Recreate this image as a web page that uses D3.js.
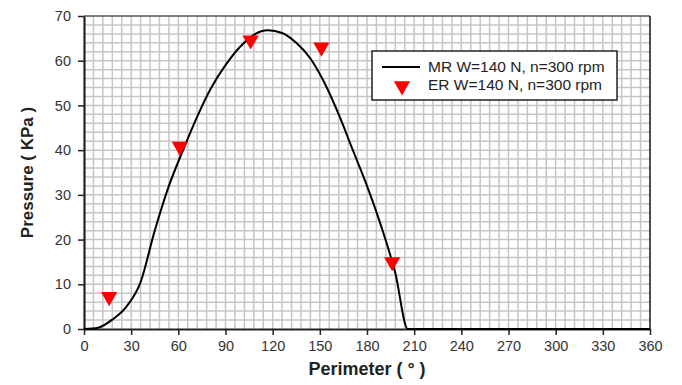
<!DOCTYPE html>
<html>
<head>
<meta charset="utf-8">
<script src="https://cdn.jsdelivr.net/npm/d3@7"></script>
<style>
  body { margin: 0; background: #fff; }
  svg { display: block; font-family: 'Liberation Sans', Arial, sans-serif; }
</style>
</head>
<body>
<div id="chart"></div>
<script>
const width = 682
const height = 385
const margin = { top: 16, right: 32, bottom: 56, left: 84 }

// MR curve
const mrAngle = [0, 9, 18, 27, 36, 45, 54, 63, 72, 81, 90, 99, 108, 117, 126, 135, 144, 153, 162, 171, 180, 189, 198, 206, 360]
const mrPressure = [0, 0.3, 2.1, 5, 10.5, 22, 32, 40, 47.5, 54, 59, 63, 65.8, 66.8, 66.2, 64, 60.5, 55, 48, 40, 32, 23, 12.5, 0, 0]

// ER measured points
const erAngle = [16, 61, 106, 151, 196]
const erPressure = [7.2, 40.8, 64.6, 63, 15]

const xTicks = d3.range(0, 361, 30)
const yTicks = d3.range(0, 71, 10)
const legendLabels = ['MR W=140 N, n=300 rpm', 'ER W=140 N, n=300 rpm']

const svg = d3
  .select('#chart')
  .append('svg')
  .attr('width', width)
  .attr('height', height)

const x = d3
  .scaleLinear()
  .domain([0, 360])
  .range([margin.left, width - margin.right])
const y = d3
  .scaleLinear()
  .domain([0, 70])
  .range([height - margin.bottom, margin.top])

// minor grid
svg
  .append('g')
  .attr('class', 'grid')
  .call(g =>
    g
      .selectAll('.vx')
      .data(d3.range(6, 360, 6))
      .join('line')
      .attr('x1', d => x(d))
      .attr('x2', d => x(d))
      .attr('y1', y(0))
      .attr('y2', y(70))
  )
  .call(g =>
    g
      .selectAll('.hy')
      .data(d3.range(2, 70, 2))
      .join('line')
      .attr('x1', x(0))
      .attr('x2', x(360))
      .attr('y1', d => y(d))
      .attr('y2', d => y(d))
  )
  .attr('stroke', '#c6c6c6')
  .attr('stroke-width', 1.5)

// frame top/right
svg
  .append('line')
  .attr('x1', x(0))
  .attr('x2', x(360))
  .attr('y1', y(70))
  .attr('y2', y(70))
  .attr('stroke', '#555')
  .attr('stroke-width', 1.6)
svg
  .append('line')
  .attr('x1', x(360))
  .attr('x2', x(360))
  .attr('y1', y(70))
  .attr('y2', y(0))
  .attr('stroke', '#222')
  .attr('stroke-width', 1.6)

const tickFont = g =>
  g
    .call(g => g.selectAll('text').attr('font-size', 14.5).attr('fill', '#333'))
    .call(g => g.selectAll('.tick line').attr('stroke', '#222').attr('stroke-width', 1.5))
    .call(g => g.select('.domain').attr('stroke', '#222').attr('stroke-width', 2.2))

svg
  .append('g')
  .attr('transform', `translate(0,${y(0)})`)
  .call(d3.axisBottom(x).tickValues(xTicks).tickSize(6).tickSizeOuter(0).tickPadding(6))
  .call(tickFont)

svg
  .append('g')
  .attr('transform', `translate(${x(0)},0)`)
  .call(d3.axisLeft(y).tickValues(yTicks).tickSize(6).tickSizeOuter(0).tickPadding(7))
  .call(tickFont)

// MR line
const line = d3
  .line()
  .x(d => x(d[0]))
  .y(d => y(d[1]))
  .curve(d3.curveMonotoneX)

svg
  .append('path')
  .datum(d3.zip(mrAngle, mrPressure))
  .attr('fill', 'none')
  .attr('stroke', '#000')
  .attr('stroke-width', 2)
  .attr('d', line)

// ER triangles
const tri = d3.symbol().type(d3.symbolTriangle).size(115)
svg
  .append('g')
  .selectAll('path')
  .data(d3.zip(erAngle, erPressure))
  .join('path')
  .attr('d', tri)
  .attr('fill', '#f00')
  .attr('transform', d => `translate(${x(d[0])},${y(d[1])}) rotate(180)`)

// axis titles
svg
  .append('text')
  .attr('x', (x(0) + x(360)) / 2)
  .attr('y', 375)
  .attr('text-anchor', 'middle')
  .attr('font-size', 18)
  .attr('font-weight', 'bold')
  .attr('fill', '#222')
  .text('Perimeter ( ° )')

svg
  .append('text')
  .attr('transform', `translate(33,${(y(0) + y(70)) / 2}) rotate(-90)`)
  .attr('text-anchor', 'middle')
  .attr('font-size', 17)
  .attr('font-weight', 'bold')
  .attr('fill', '#222')
  .text('Pressure ( KPa )')

// legend
const legend = svg.append('g').attr('transform', 'translate(372,51)')
legend
  .append('rect')
  .attr('width', 245)
  .attr('height', 49)
  .attr('fill', '#fff')
  .attr('stroke', '#222')
  .attr('stroke-width', 1.5)
legend
  .append('line')
  .attr('x1', 10)
  .attr('x2', 48)
  .attr('y1', 16)
  .attr('y2', 16)
  .attr('stroke', '#000')
  .attr('stroke-width', 2)
legend
  .append('path')
  .attr('d', tri)
  .attr('fill', '#f00')
  .attr('transform', 'translate(30,35) rotate(180)')
legend
  .selectAll('text')
  .data(legendLabels)
  .join('text')
  .attr('x', 56)
  .attr('y', (d, i) => 21 + i * 18)
  .attr('font-size', 15.5)
  .attr('fill', '#222')
  .text(d => d)
</script>
</body>
</html>
